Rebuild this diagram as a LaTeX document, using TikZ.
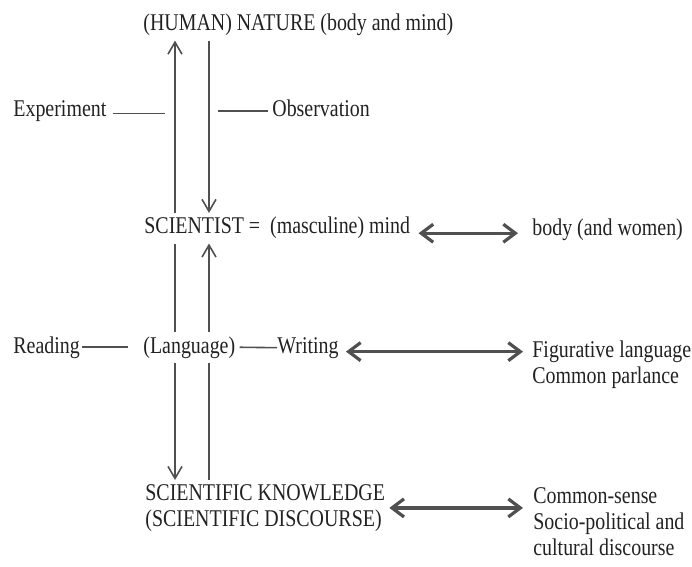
\documentclass[tikz,border=0pt]{standalone}
\usepackage{fontspec}
\setmainfont{Liberation Serif}[FakeStretch=0.83]
\usepackage{tikz}
\usetikzlibrary{arrows.meta,positioning}
\definecolor{ink}{HTML}{222222}
\definecolor{pen}{HTML}{505050}
\tikzset{
  lbl/.style={text=ink, inner sep=2pt, align=left, font=\fontsize{12}{13}\selectfont},
  ln/.style={draw=pen, line width=0.8pt},
  arr/.style={ln, -{Straight Barb[length=6pt, width=7pt]}},
  dbl/.style={draw=pen, line width=1.6pt,
              {Straight Barb[length=6pt, width=9pt]}-{Straight Barb[length=6pt, width=9pt]}}
}

\begin{document}
\begin{tikzpicture}[x=0.5pt, y=-0.5pt]
    \useasboundingbox (0,0) rectangle (692,567);
    \coordinate (colL) at (175,0);
    \coordinate (colR) at (209,0);
    \node[lbl, anchor=base west] (nat) at (139,31) {(HUMAN) NATURE (body and mind)};
    \node[lbl, anchor=base west] (exp) at (9,117) {Experiment};
    \node[lbl, anchor=base west] (obs) at (268,117) {Observation};
    \node[lbl, anchor=base west] (sci) at (140,234) {SCIENTIST = \ (masculine) mind};
    \node[lbl, anchor=base west] (body) at (528,235) {body (and women)};
    \node[lbl, anchor=base west] (read) at (9,353) {Reading};
    \node[lbl, anchor=base west] (lang) at (139,353) {(Language)};
    \node[lbl, anchor=base west] (writ) at (273,353) {Writing};
    \node[lbl, anchor=north west] (fig) at (528,336) {Figurative language\\Common parlance};
    \node[lbl, anchor=north west] (know) at (141,480) {SCIENTIFIC KNOWLEDGE\\(SCIENTIFIC DISCOURSE)};
    \node[lbl, anchor=north west] (cs) at (529,483) {Common-sense\\Socio-political and\\cultural discourse};
    \draw[arr] (sci.north -| colL) -- (nat.south -| colL);
    \draw[arr] (nat.south -| colR) -- (sci.north -| colR);
    \draw[ln] (sci.south -| colL) -- (lang.north -| colL);
    \draw[arr] (lang.south -| colL) -- (know.north -| colL);
    \draw[ln] (know.north -| colR) -- (lang.south -| colR);
    \draw[arr] (lang.north -| colR) -- (sci.south -| colR);
    \draw[ln, shorten <=1pt, shorten >=5pt] ([yshift=-1pt]exp.east) -- ([yshift=-1pt]exp.east -| colL);
    \draw[ln, shorten >=4.5pt] ([yshift=-1pt]obs.west) -- ([yshift=-1pt]obs.west -| colR);
    \draw[ln, shorten <=-1pt, shorten >=5.5pt] (read.east) -- (lang.west);
    \draw[ln, shorten >=-2pt] (lang.east) -- (writ.west);
    \draw[dbl, shorten <=2pt, shorten >=5pt] ([yshift=-2.5pt]sci.east) -- ([yshift=-2.5pt]sci.east -| body.west);
    \draw[dbl, shorten <=1.5pt, shorten >=2.5pt] ([yshift=-2pt]writ.east) -- ([yshift=-2pt]writ.east -| fig.west);
    \draw[dbl, shorten >=3pt] (know.east) -- (know.east -| cs.west);
  \end{tikzpicture}
\end{document}
